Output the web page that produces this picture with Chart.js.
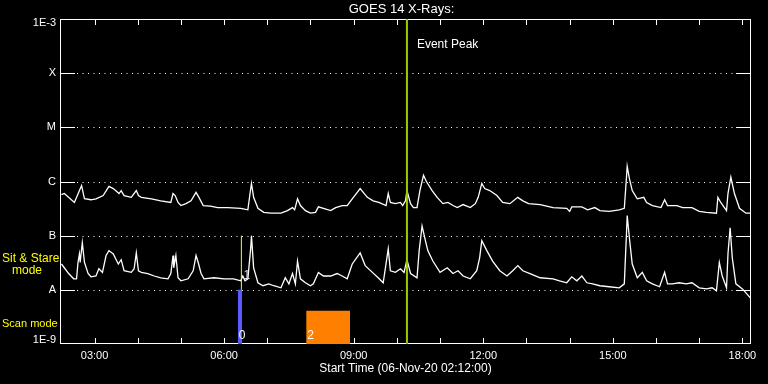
<!DOCTYPE html>
<html>
<head>
<meta charset="utf-8">
<script src="https://cdn.jsdelivr.net/npm/chart.js@4.4.1/dist/chart.umd.min.js"></script>
<style>
  html, body { margin: 0; padding: 0; background: #000; }
  #wrap { position: relative; width: 768px; height: 384px; }
</style>
</head>
<body>
<div id="wrap"><canvas id="goes"></canvas></div>
<script>
// --- Data (times UT, flux W/m^2) ---
const longTimes = ['02:14','02:18','02:32','02:39','02:42','02:46','02:55','03:02','03:12','03:20',
  '03:26','03:34','03:37','03:41','03:51','03:58','04:01','04:05','04:19','04:32',
  '04:46','04:49','04:52','04:56','05:00','05:07','05:14','05:21','05:25','05:31',
  '05:41','05:51','06:05','06:23','06:33','06:36','06:38','06:41','06:47','06:55',
  '07:05','07:19','07:28','07:35','07:38','07:42','07:46','07:53','08:00','08:07',
  '08:11','08:18','08:28','08:35','08:44','08:51','08:58','09:09','09:19','09:27',
  '09:35','09:45','09:48','09:51','09:58','10:05','10:08','10:12','10:14','10:19',
  '10:23','10:28','10:32','10:37','10:41','10:49','10:56','11:04','11:11','11:18',
  '11:24','11:32','11:42','11:49','11:53','11:58','12:02','12:09','12:19','12:27',
  '12:37','12:48','12:55','13:03','13:19','13:37','13:56','14:00','14:03','14:17',
  '14:25','14:35','14:42','14:55','15:09','15:16','15:19','15:20','15:23','15:27',
  '15:34','15:43','15:47','15:55','16:07','16:12','16:16','16:29','16:37','16:50',
  '17:00','17:10','17:24','17:26','17:30','17:38','17:40','17:44','17:49','17:56',
  '18:05','18:11'];
const longFlux = [5.7e-7,6.0e-7,4.1e-7,6.8e-7,8.4e-7,4.8e-7,4.6e-7,4.8e-7,5.5e-7,8.1e-7,
  7.4e-7,6.0e-7,6.8e-7,5.5e-7,5.1e-7,6.8e-7,5.5e-7,5.1e-7,4.8e-7,4.4e-7,
  4.1e-7,6.0e-7,5.5e-7,4.1e-7,3.6e-7,3.9e-7,4.4e-7,6.3e-7,5.1e-7,3.6e-7,
  3.5e-7,3.3e-7,3.3e-7,3.2e-7,3.0e-7,6.0e-7,9.2e-7,5.1e-7,3.2e-7,2.7e-7,
  2.6e-7,2.6e-7,2.9e-7,3.3e-7,3.0e-7,4.8e-7,3.6e-7,2.9e-7,2.6e-7,2.7e-7,
  3.4e-7,3.2e-7,2.9e-7,3.3e-7,3.6e-7,3.6e-7,4.8e-7,7.4e-7,5.1e-7,4.4e-7,
  4.1e-7,3.6e-7,6.0e-7,4.1e-7,3.9e-7,4.1e-7,3.6e-7,4.4e-7,6.8e-7,3.9e-7,
  3.3e-7,3.3e-7,6.8e-7,1.3e-6,1.0e-6,6.8e-7,5.1e-7,3.9e-7,4.1e-7,3.6e-7,
  3.3e-7,3.75e-7,3.3e-7,3.9e-7,5.1e-7,9.2e-7,7.4e-7,6.8e-7,5.5e-7,4.1e-7,
  3.9e-7,5.1e-7,4.4e-7,3.9e-7,3.75e-7,3.3e-7,3.2e-7,2.8e-7,3.4e-7,3.4e-7,
  3.0e-7,3.3e-7,2.9e-7,2.8e-7,3.0e-7,3.2e-7,1.2e-6,1.9e-6,1.14e-6,6.8e-7,
  4.8e-7,5.1e-7,4.1e-7,3.6e-7,3.3e-7,4.6e-7,3.6e-7,3.6e-7,3.3e-7,3.3e-7,
  2.8e-7,2.7e-7,2.6e-7,5.1e-7,4.1e-7,2.9e-7,6.0e-7,1.2e-6,6.0e-7,3.2e-7,
  2.6e-7,2.6e-7];

const shortTimes = ['02:14','02:19','02:24','02:31','02:35','02:37','02:39','02:40','02:43','02:46',
  '02:51','02:55','03:02','03:06','03:11','03:16','03:20','03:26','03:33','03:37',
  '03:41','03:51','03:55','03:58','04:01','04:05','04:14','04:23','04:32','04:42',
  '04:46','04:49','04:50','04:53','04:56','05:00','05:10','05:17','05:21','05:24',
  '05:28','05:32','05:46','06:00','06:13','06:23','06:26','06:29','06:33','06:37',
  '06:38','06:41','06:47','06:54','07:02','07:09','07:19','07:25','07:30','07:35',
  '07:39','07:42','07:46','07:53','08:00','08:04','08:11','08:18','08:28','08:37',
  '08:44','08:51','08:58','09:09','09:16','09:26','09:34','09:41','09:48','09:51',
  '09:58','10:05','10:10','10:14','10:19','10:28','10:31','10:35','10:39','10:43',
  '10:50','11:00','11:10','11:18','11:25','11:32','11:42','11:51','11:55','11:58',
  '12:05','12:13','12:23','12:33','12:41','12:48','12:55','13:05','13:19','13:37',
  '13:46','13:56','14:03','14:10','14:17','14:24','14:32','14:42','14:55','15:09',
  '15:16','15:19','15:20','15:23','15:27','15:34','15:41','15:47','15:55','16:05',
  '16:12','16:16','16:23','16:32','16:42','16:50','17:00','17:10','17:18','17:24',
  '17:28','17:32','17:38','17:40','17:43','17:46','17:51','18:00','18:05','18:11'];
const shortFlux = [3.0e-8,2.45e-8,2.0e-8,1.6e-8,1.6e-8,3.2e-8,4.6e-8,3.2e-8,7.4e-8,3.2e-8,
  2.0e-8,1.74e-8,1.8e-8,2.45e-8,2.1e-8,4.3e-8,5.3e-8,4.6e-8,3.0e-8,3.6e-8,
  2.25e-8,2.1e-8,2.45e-8,4.8e-8,2.25e-8,2.1e-8,2.0e-8,1.8e-8,1.67e-8,1.6e-8,
  2.0e-8,4.3e-8,2.55e-8,4.3e-8,1.67e-8,1.47e-8,1.6e-8,2.25e-8,4.3e-8,3.2e-8,
  2.0e-8,1.6e-8,1.67e-8,1.6e-8,1.6e-8,1.47e-8,1.8e-8,1.47e-8,1.6e-8,6.0e-8,
  1.0e-7,2.55e-8,1.35e-8,1.19e-8,1.29e-8,1.19e-8,1.09e-8,1.67e-8,1.29e-8,2.0e-8,
  1.29e-8,3.4e-8,1.6e-8,1.35e-8,1.19e-8,1.29e-8,2.1e-8,1.8e-8,1.8e-8,2.0e-8,
  1.8e-8,1.6e-8,3.0e-8,4.8e-8,2.8e-8,2.1e-8,1.67e-8,1.35e-8,5.7e-8,2.25e-8,
  2.1e-8,2.45e-8,2.1e-8,3.6e-8,2.0e-8,1.67e-8,5.3e-8,1.5e-7,8.8e-8,5.3e-8,
  3.4e-8,2.1e-8,2.55e-8,2.0e-8,2.25e-8,1.8e-8,1.6e-8,2.25e-8,3.9e-8,8.1e-8,
  5.3e-8,3.4e-8,2.25e-8,1.8e-8,2.25e-8,2.8e-8,2.25e-8,2.0e-8,1.67e-8,1.6e-8,
  1.47e-8,1.35e-8,1.74e-8,1.47e-8,1.8e-8,1.35e-8,1.29e-8,1.19e-8,1.14e-8,1.09e-8,
  1.29e-8,1.1e-7,2.35e-7,9.2e-8,3.0e-8,1.67e-8,2.1e-8,1.47e-8,1.29e-8,1.14e-8,
  2.1e-8,1.29e-8,1.29e-8,1.35e-8,1.29e-8,1.35e-8,1.09e-8,1.04e-8,1.09e-8,9.6e-9,
  3.2e-8,1.8e-8,1.09e-8,4.6e-8,1.4e-7,3.9e-8,1.29e-8,1.04e-8,8.8e-9,7.1e-9];

const classNames = ['1E-9', 'A', 'B', 'C', 'M', 'X', '1E-3'];
const classLevels = [1e-9, 1e-8, 1e-7, 1e-6, 1e-5, 1e-4, 1e-3];
const hourTicks = [3, 4, 5, 6, 7, 8, 9, 10, 11, 12, 13, 14, 15, 16, 17, 18];
const hourLabels = ['03:00', '06:00', '09:00', '12:00', '15:00', '18:00'];
const startTime = '02:12';
const endTime = '18:12';

const eventPeakTime = '10:14';
const sitStareTime = '06:24';
const sitStareRange = [1e-8, 1e-7];
const scanLabels = ['0', '2'];
const scanStart = ['06:19', '07:54'];
const scanEnd = ['06:25', '08:55'];
const scanTop = [1e-8, 4.1e-9];
const scanColors = ['#5a5aff', '#ff8000'];

const toMin = s => { const [h, m] = s.split(':').map(Number); return h * 60 + m; };
const series = (times, vals) => times.map((t, i) => ({ x: toMin(t), y: vals[i] }));

const FONT = '"Liberation Sans", Arial, sans-serif';

// --- Assi, griglia e testi disegnati sulle scale ---
const goesFrame = {
    id: 'goesFrame',
    beforeDatasetsDraw(chart) {
        const { ctx, chartArea: a, scales: { x, y } } = chart;
        ctx.save();
        ctx.strokeStyle = '#fff';
        ctx.lineWidth = 1;
        ctx.strokeRect(a.left + 0.5, a.top + 0.5, a.width - 1, a.height - 1);

        // livelli di classe: tratto pieno ai bordi, puntinato in mezzo
        classLevels.slice(1, -1).forEach(v => {
            const py = Math.round(y.getPixelForValue(v)) + 0.5;
            ctx.setLineDash([]);
            ctx.beginPath();
            ctx.moveTo(a.left, py); ctx.lineTo(a.left + 15, py);
            ctx.moveTo(a.right - 15, py); ctx.lineTo(a.right, py);
            ctx.stroke();
            ctx.setLineDash([1, 4.5]);
            ctx.beginPath();
            ctx.moveTo(a.left + 17, py); ctx.lineTo(a.right - 17, py);
            ctx.stroke();
        });
        ctx.setLineDash([]);

        // tick orari sopra e sotto
        ctx.beginPath();
        hourTicks.forEach(h => {
            const px = Math.round(x.getPixelForValue(h * 60)) + 0.5;
            ctx.moveTo(px, a.top); ctx.lineTo(px, a.top + 6);
            ctx.moveTo(px, a.bottom); ctx.lineTo(px, a.bottom - 6);
        });
        ctx.stroke();

        // etichette
        ctx.fillStyle = '#fff';
        ctx.font = '11px ' + FONT;
        ctx.textAlign = 'right';
        ctx.textBaseline = 'middle';
        classLevels.forEach((v, i) => {
            let py = y.getPixelForValue(v);
            py = Math.min(Math.max(py, a.top + 4), a.bottom - 4);
            ctx.fillText(classNames[i], a.left - 4, py);
        });
        ctx.textAlign = 'center';
        hourLabels.forEach(lbl => {
            ctx.fillText(lbl, x.getPixelForValue(toMin(lbl)), a.bottom + 12);
        });

        ctx.font = '12px ' + FONT;
        ctx.fillText('Start Time (06-Nov-' + '20 ' + startTime + ':00)', (a.left + a.right) / 2, a.bottom + 25);
        ctx.font = '13px ' + FONT;
        ctx.fillText('GOES 14 X-Rays:', (a.left + a.right) / 2 - 4, 9);

        ctx.fillStyle = '#ffff00';
        ctx.textAlign = 'left';
        ctx.font = '12px ' + FONT;
        ctx.fillText('Sit & Stare', 2, 259);
        ctx.fillText('mode', 12, 271);
        ctx.font = '11px ' + FONT;
        ctx.fillText('Scan mode', 2, 324);
        ctx.restore();
    },
    afterDatasetsDraw(chart) {
        const { ctx, chartArea: a, scales: { x, y } } = chart;
        ctx.save();
        ctx.font = '12px ' + FONT;
        ctx.textBaseline = 'alphabetic';
        ctx.textAlign = 'left';
        ctx.fillStyle = '#fff';
        scanLabels.forEach((lbl, i) => {
            ctx.fillText(lbl, x.getPixelForValue(toMin(scanStart[i])) + 1, a.bottom - 5);
        });
        ctx.fillStyle = '#dddddd';
        ctx.fillText('1', x.getPixelForValue(toMin(sitStareTime)) + 2, y.getPixelForValue(1.6e-8));
        ctx.fillStyle = '#fff';
        ctx.fillText('Event Peak', x.getPixelForValue(toMin(eventPeakTime)) + 10, a.top + 29);
        ctx.restore();
    }
};

const lineStyle = { pointRadius: 0, borderWidth: 1.3, tension: 0, fill: false };

const datasets = [
    { ...lineStyle, label: 'Event Peak', order: 0, borderColor: '#99cc00', borderWidth: 2,
      data: [{ x: toMin(eventPeakTime), y: classLevels[0] }, { x: toMin(eventPeakTime), y: classLevels[6] }] },
    { ...lineStyle, label: 'Sit & Stare', order: 1, borderColor: '#ffff00', borderWidth: 1,
      data: sitStareRange.map(v => ({ x: toMin(sitStareTime), y: v })) },
    { ...lineStyle, label: '1-8 A', order: 2, borderColor: '#ffffff', data: series(longTimes, longFlux) },
    { ...lineStyle, label: '0.5-4 A', order: 2, borderColor: '#ffffff', data: series(shortTimes, shortFlux) }
];
scanStart.forEach((s, i) => {
    datasets.push({
        ...lineStyle, label: 'Scan ' + scanLabels[i], order: 3, borderWidth: 0,
        borderColor: scanColors[i], backgroundColor: scanColors[i], fill: 'start',
        data: [{ x: toMin(s), y: scanTop[i] }, { x: toMin(scanEnd[i]), y: scanTop[i] }]
    });
});

new Chart(document.getElementById('goes').getContext('2d'), {
    type: 'line',
    data: { datasets },
    options: {
        responsive: true,
        maintainAspectRatio: false,
        animation: false,
        events: [],
        layout: { padding: { left: 60, top: 19, right: 17, bottom: 40 } },
        plugins: { legend: { display: false }, tooltip: { enabled: false } },
        scales: {
            x: { type: 'linear', display: false, min: toMin(startTime), max: toMin(endTime) },
            y: { type: 'logarithmic', display: false, min: classLevels[0], max: classLevels[6] }
        }
    },
    plugins: [goesFrame]
});
</script>
</body>
</html>
